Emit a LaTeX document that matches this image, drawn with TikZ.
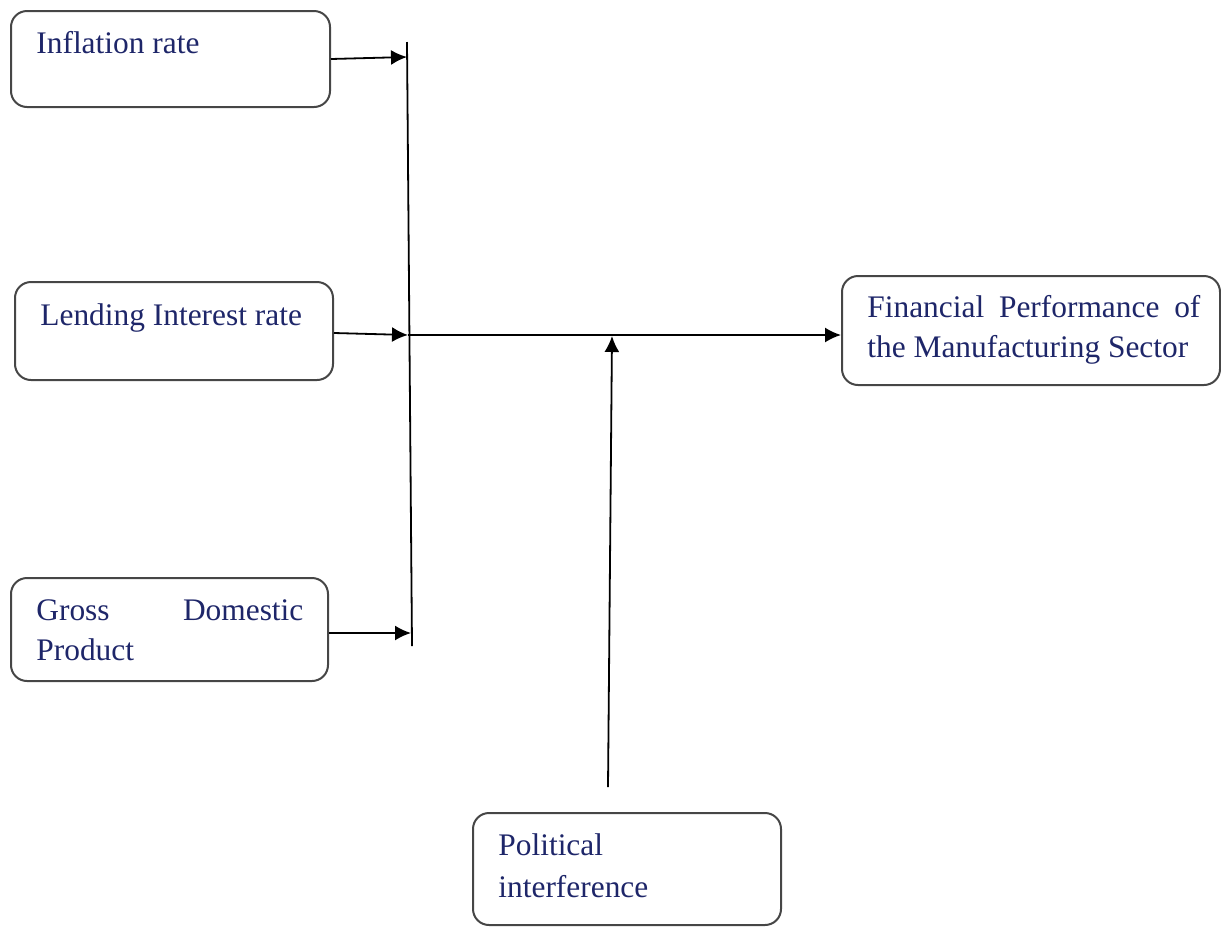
\documentclass[tikz,border=0pt]{standalone}
\usepackage{fontspec}
\setmainfont{Liberation Serif}
\usetikzlibrary{arrows.meta}
\definecolor{txtblue}{RGB}{30,38,105}
\definecolor{boxgray}{RGB}{70,70,70}
\begin{document}
\begin{tikzpicture}[x=0.5pt,y=-0.5pt,
  box/.style={draw=boxgray,line width=1pt,rounded corners=8pt,rectangle,inner sep=0pt},
  txt/.style={anchor=base west,inner sep=0pt,text=txtblue,font=\fontsize{15.7}{20}\selectfont},
  arr/.style={-{Latex[length=8pt,width=7.5pt]},line width=0.9pt,black},
  ln/.style={line width=0.9pt,black}]
\useasboundingbox (0,0) rectangle (1221,927);
% boxes
\node[box,minimum width=159.5pt,minimum height=48pt] (infl) at (170.5,59) {};
\node[box,minimum width=159pt,minimum height=49pt] (lend) at (174,331) {};
\node[box,minimum width=158.5pt,minimum height=51.5pt] (gdp) at (169.5,629.5) {};
\node[box,minimum width=189pt,minimum height=54.5pt] (fin) at (1031,330.5) {};
\node[box,minimum width=154pt,minimum height=56pt] (pol) at (627,869) {};
% texts
\node[txt] (tinfl) at (36,53) {Inflation rate};
\node[txt] (tlend) at (40,325) {Lending Interest rate};
\node[txt] (tgdp1) at (36,620) {\hbox to 133.5pt{Gross\hfill Domestic}};
\node[txt] (tgdp2) at (36,660) {Product};
\node[txt] (tfin1) at (867,317) {\hbox to 166.5pt{Financial\hfill Performance\hfill of}};
\node[txt] (tfin2) at (867,357) {the Manufacturing Sector};
\node[txt] (tpol1) at (498,855) {Political};
\node[txt] (tpol2) at (498,897) {interference};
% connector points
\coordinate (barT) at (407,42);
\coordinate (barB) at (412,646);
\coordinate (a1) at (407,57);
\coordinate (a2) at (408,335);
\coordinate (a3) at (411,633);
\coordinate (pT) at (608,787);
\coordinate (pH) at (612,336);
% connectors
\draw[ln] (barT) -- (barB);
\draw[arr] (infl.east) -- (a1);
\draw[arr] ([yshift=-1pt]lend.east) -- (a2);
\draw[arr] (gdp.east |- a3) -- (a3);
\draw[arr] (a2) -- (fin.west |- a2);
\draw[arr] (pT) -- (pH);
\end{tikzpicture}
\end{document}
